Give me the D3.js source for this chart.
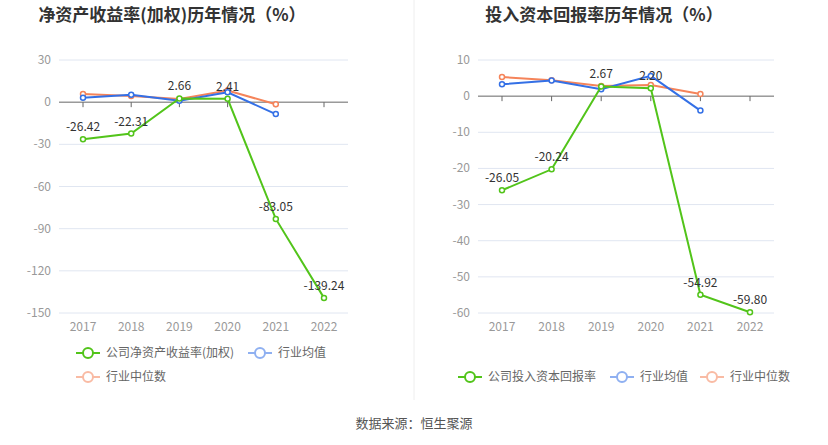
<!DOCTYPE html>
<html><head><meta charset="utf-8">
<script src="https://cdn.jsdelivr.net/npm/d3@7"></script>
<style>body{margin:0;background:#fff;font-family:"Noto Sans CJK SC","Noto Sans",sans-serif}</style>
</head><body><svg id="c" width="828" height="445"></svg>
<script>
const years = ["2017", "2018", "2019", "2020", "2021", "2022"];
// 净资产收益率
const roeCompany = [-26.42, -22.31, 2.66, 2.41, -83.05, -139.24];
const roeAvg = [3.2, 5.3, 1.0, 7.0, -8.5];
const roeMed = [5.8, 4.4, 2.2, 8.3, -1.5];
const roeTicks = [30, 0, -30, -60, -90, -120, -150];
// 投入资本回报率
const roicCompany = [-26.05, -20.24, 2.67, 2.20, -54.92, -59.80];
const roicAvg = [3.3, 4.3, 1.9, 5.6, -4.0];
const roicMed = [5.3, 4.4, 2.8, 3.1, 0.6];
const roicTicks = [10, 0, -10, -20, -30, -40, -50, -60];

const green = "#52c41a", blue = "#3470e6", orange = "#f5845a";
const svg = d3.select("#c");
const font = "'Noto Sans CJK SC', sans-serif";

svg.append("line").attr("x1", 414).attr("x2", 414).attr("y1", 0).attr("y2", 400)
  .attr("stroke", "#eee");

function panel(opt) {
  const g = svg.append("g");
  g.append("text").attr("x", opt.cx).attr("y", 21).attr("text-anchor", "middle")
    .attr("font-family", font).attr("font-weight", "bold").attr("font-size", 17)
    .attr("fill", "#333").text(opt.title);

  const x = d3.scalePoint().domain(years).range([opt.x0 + 24, opt.x1 - 24]);
  const y = d3.scaleLinear().domain(opt.domain).range([313, 60]);

  opt.ticks.forEach(t => {
    g.append("line").attr("x1", opt.x0).attr("x2", opt.x1).attr("y1", y(t)).attr("y2", y(t))
      .attr("stroke", t === 0 ? "#666" : "#e0e6f1");
    g.append("text").attr("x", opt.x0 - 8).attr("y", y(t) + 4).attr("text-anchor", "end")
      .attr("font-family", font).attr("font-size", 12).attr("fill", "#999").text(t);
  });
  years.forEach(yr => {
    g.append("line").attr("x1", x(yr)).attr("x2", x(yr))
      .attr("y1", y(0)).attr("y2", y(0) + 5).attr("stroke", "#666");
    g.append("text").attr("x", x(yr)).attr("y", 331)
      .attr("text-anchor", "middle").attr("font-family", font).attr("font-size", 12)
      .attr("fill", "#999").text(yr);
  });

  const line = d3.line().x((d, i) => x(years[i])).y(d => y(d));
  [[opt.med, orange], [opt.avg, blue], [opt.company, green]].forEach(([data, c]) => {
    g.append("path").attr("d", line(data)).attr("fill", "none").attr("stroke", c).attr("stroke-width", 2);
    data.forEach((d, i) => g.append("circle").attr("cx", x(years[i])).attr("cy", y(d)).attr("r", 2.5)
      .attr("fill", "#fff").attr("stroke", c).attr("stroke-width", 1.5));
  });
  opt.company.forEach((d, i) => g.append("text").attr("x", x(years[i])).attr("y", y(d) - 8)
    .attr("text-anchor", "middle").attr("font-family", font).attr("font-size", 12)
    .attr("fill", "#333").text(d.toFixed(2)));

  opt.legend.forEach(([label, c, lx, ly, op]) => {
    const lg = g.append("g").attr("opacity", op);
    lg.append("line").attr("x1", lx).attr("x2", lx + 24).attr("y1", ly).attr("y2", ly)
      .attr("stroke", c).attr("stroke-width", 2);
    lg.append("circle").attr("cx", lx + 12).attr("cy", ly).attr("r", 5).attr("fill", "#fff")
      .attr("stroke", c).attr("stroke-width", 2);
    g.append("text").attr("x", lx + 30).attr("y", ly + 4).attr("font-family", font)
      .attr("font-size", 12).attr("fill", "#666").text(label);
  });
}

panel({ title: "净资产收益率(加权)历年情况（%）", cx: 172, x0: 59, x1: 348,
  domain: [-150, 30], ticks: roeTicks, company: roeCompany, avg: roeAvg, med: roeMed,
  legend: [["公司净资产收益率(加权)", green, 76, 353, 1], ["行业均值", blue, 248, 353, 0.55], ["行业中位数", orange, 76, 377, 0.55]] });
panel({ title: "投入资本回报率历年情况（%）", cx: 604, x0: 478, x1: 774,
  domain: [-60, 10], ticks: roicTicks, company: roicCompany, avg: roicAvg, med: roicMed,
  legend: [["公司投入资本回报率", green, 458, 377, 1], ["行业均值", blue, 610, 377, 0.55], ["行业中位数", orange, 700, 377, 0.55]] });

svg.append("text").attr("x", 414).attr("y", 428).attr("text-anchor", "middle")
  .attr("font-family", font).attr("font-size", 13).attr("fill", "#555").text("数据来源：恒生聚源");
</script></body></html>
